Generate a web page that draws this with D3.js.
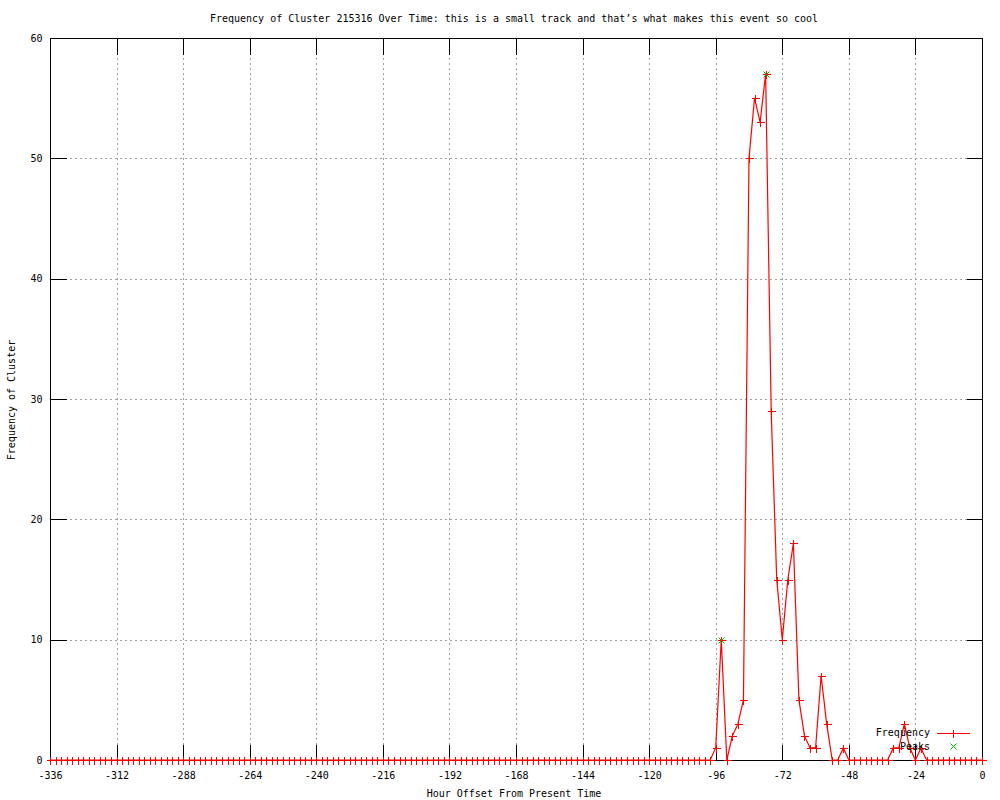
<!DOCTYPE html>
<html>
<head>
<meta charset="utf-8">
<script src="https://cdn.jsdelivr.net/npm/d3@7"></script>
<style>
  body { margin: 0; background: #fff; }
  text { font-family: "DejaVu Sans Mono", "Liberation Mono", monospace; font-size: 10px; fill: #000; }
</style>
</head>
<body>
<svg id="chart" width="1000" height="800"></svg>
<script>
// hours before now, one sample every 2 hours
var hours = d3.range(-336, 1, 2);

// frequency per sample, -336 .. 0
var counts = [
  0,0,0,0,0,0,0,0,0,0,0,0,0,0,0,0,0,0,0,0,
  0,0,0,0,0,0,0,0,0,0,0,0,0,0,0,0,0,0,0,0,
  0,0,0,0,0,0,0,0,0,0,0,0,0,0,0,0,0,0,0,0,
  0,0,0,0,0,0,0,0,0,0,0,0,0,0,0,0,0,0,0,0,
  0,0,0,0,0,0,0,0,0,0,0,0,0,0,0,0,0,0,0,0,
  0,0,0,0,0,0,0,0,0,0,0,0,0,0,0,0,0,0,0,0,
  1,10,0,2,3,5,50,55,53,57,29,15,10,15,18,5,2,1,1,7,3,0,0,1,0,
  0,0,0,0,0,0,0,
  1,1,3,1,0,
  1,
  0,0,0,0,0,0,0,0,0,0,0
];

var peakHours = [-94, -78];
var peakCounts = [10, 57];

var xTicks = [-336,-312,-288,-264,-240,-216,-192,-168,-144,-120,-96,-72,-48,-24,0];
var yTicks = [0,10,20,30,40,50,60];

var titleText = "Frequency of Cluster 215316 Over Time: this is a small track and that\u2019s what makes this event so cool";

var plotL = 50, plotR = 982, plotT = 38, plotB = 760;
var tickLen = 16;

var svg = d3.select("#chart");

var x = d3.scaleLinear().domain([-336, 0]).range([plotL, plotR]);
var y = d3.scaleLinear().domain([0, 60]).range([plotB, plotT]);

var data = hours.map(function(h, i) { return {h: h, v: counts[i]}; });

// grid
var grid = svg.append("g").attr("shape-rendering", "crispEdges");
grid.selectAll(".gx").data(xTicks.slice(1, -1)).enter().append("line")
  .attr("x1", function(d) { return Math.round(x(d)) + 0.5; })
  .attr("x2", function(d) { return Math.round(x(d)) + 0.5; })
  .attr("y1", plotT).attr("y2", plotB)
  .attr("stroke", "#a0a0a0").attr("stroke-dasharray", "2,3");
grid.selectAll(".gy").data(yTicks.slice(1, -1)).enter().append("line")
  .attr("y1", function(d) { return Math.round(y(d)) + 0.5; })
  .attr("y2", function(d) { return Math.round(y(d)) + 0.5; })
  .attr("x1", plotL).attr("x2", plotR)
  .attr("stroke", "#a0a0a0").attr("stroke-dasharray", "2,3");

// axes with gnuplot-like inward ticks
var xAxisB = d3.axisBottom(x).tickValues(xTicks).tickSize(-tickLen).tickPadding(15)
  .tickFormat(function(d) { return String(d).replace("\u2212", "-"); });
var gxb = svg.append("g").attr("transform", "translate(0," + (plotB + 0.5) + ")").call(xAxisB);
var gxt = svg.append("g").attr("transform", "translate(0," + (plotT + 0.5) + ")")
  .call(d3.axisTop(x).tickValues(xTicks).tickSize(-tickLen).tickFormat(""));
var yAxisL = d3.axisLeft(y).tickValues(yTicks).tickSize(-tickLen).tickPadding(8);
var gyl = svg.append("g").attr("transform", "translate(" + (plotL + 0.5) + ",0)").call(yAxisL);
var gyr = svg.append("g").attr("transform", "translate(" + (plotR + 0.5) + ",0)")
  .call(d3.axisRight(y).tickValues(yTicks).tickSize(-tickLen).tickFormat(""));

[gxb, gxt, gyl, gyr].forEach(function(g) {
  g.attr("shape-rendering", "crispEdges");
  g.select(".domain").remove();
  g.selectAll("line").attr("stroke", "#000");
  g.selectAll("text").attr("font-family", null).attr("font-size", null).attr("fill", "#000");
});
gxb.selectAll("text").attr("dy", "0.3em");

// border
svg.append("rect")
  .attr("x", plotL + 0.5).attr("y", plotT + 0.5)
  .attr("width", plotR - plotL).attr("height", plotB - plotT)
  .attr("fill", "none").attr("stroke", "#000").attr("shape-rendering", "crispEdges");

// frequency line
var line = d3.line().x(function(d) { return x(d.h); }).y(function(d) { return y(d.v); });
svg.append("path").datum(data)
  .attr("d", line)
  .attr("fill", "none").attr("stroke", "#ff0000").attr("stroke-width", 1.2);

// + markers
var plus = "M-4,0H4M0,-4V4";
svg.append("g").attr("shape-rendering", "crispEdges").selectAll("path").data(data).enter().append("path")
  .attr("transform", function(d) { return "translate(" + (Math.round(x(d.h)) + 0.5) + "," + (Math.round(y(d.v)) + 0.5) + ")"; })
  .attr("d", plus).attr("stroke", "#ff0000").attr("fill", "none");

// peaks (x markers)
var cross = "M-3,-3L3,3M-3,3L3,-3";
svg.append("g").selectAll("path").data(peakHours).enter().append("path")
  .attr("transform", function(d, i) { return "translate(" + (Math.round(x(d)) + 0.5) + "," + (Math.round(y(peakCounts[i])) + 0.5) + ")"; })
  .attr("d", cross).attr("stroke", "#00c000").attr("fill", "none");

// legend
var leg = svg.append("g");
leg.append("text").attr("x", 930).attr("y", 736).attr("text-anchor", "end").text("Frequency");
leg.append("line").attr("x1", 937).attr("x2", 970).attr("y1", 733.5).attr("y2", 733.5)
  .attr("stroke", "#ff0000").attr("shape-rendering", "crispEdges");
leg.append("path").attr("transform", "translate(953.5,733.5)").attr("d", plus)
  .attr("stroke", "#ff0000").attr("fill", "none").attr("shape-rendering", "crispEdges");
leg.append("text").attr("x", 930).attr("y", 750).attr("text-anchor", "end").text("Peaks");
leg.append("path").attr("transform", "translate(953.5,746.5)").attr("d", cross)
  .attr("stroke", "#00c000").attr("fill", "none");

// titles
svg.append("text").attr("x", 514).attr("y", 22).attr("text-anchor", "middle").text(titleText);
svg.append("text").attr("x", 514).attr("y", 797).attr("text-anchor", "middle").text("Hour Offset From Present Time");
svg.append("text").attr("transform", "translate(15,400) rotate(-90)").attr("text-anchor", "middle")
  .text("Frequency of Cluster");
</script>
</body>
</html>
